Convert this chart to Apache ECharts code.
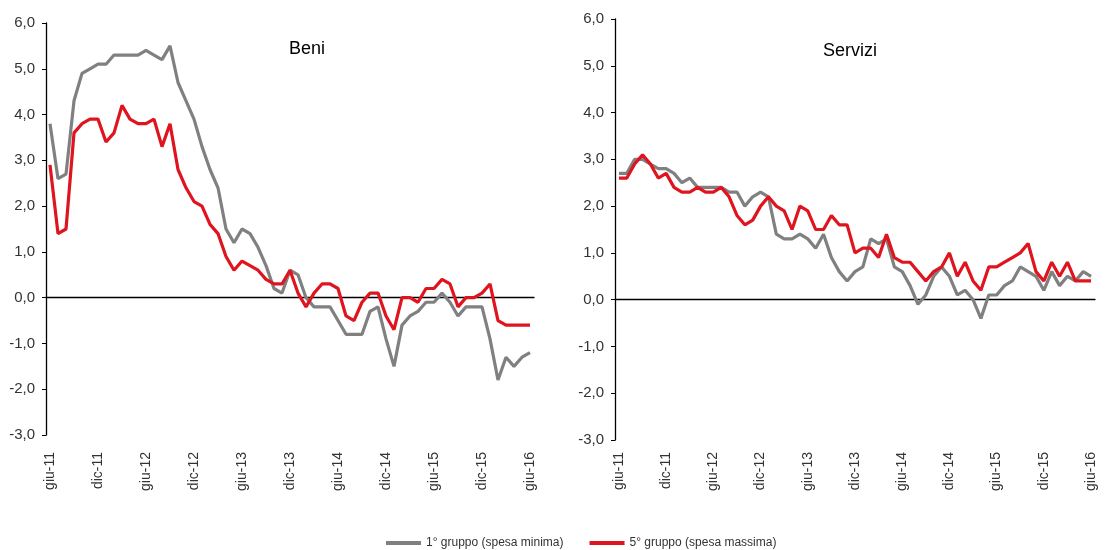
<!DOCTYPE html>
<html>
<head>
<meta charset="utf-8">
<script src="https://cdn.jsdelivr.net/npm/echarts@6/dist/echarts.min.js"></script>
<style>
    html, body {margin: 0; padding: 0; background: #fff;}
    #chart {width: 1106px; height: 550px;}
</style>
</head>
<body>
<div id="chart"></div>
<script>
// mesi da giu-11 a giu-16
var mesi = ['gen', 'feb', 'mar', 'apr', 'mag', 'giu', 'lug', 'ago', 'set', 'ott', 'nov', 'dic'];
var categorie = [];
for (var a = 11; a <= 16; a++) {
    for (var m = 0; m < 12; m++) {
        if ((a == 11 && m < 5) || (a == 16 && m > 5)) continue;
        categorie.push(mesi[m] + '-' + a);
    }
}

var legenda = ['1° gruppo (spesa minima)', '5° gruppo (spesa massima)'];

// Beni
var beniMinima = [3.8, 2.6, 2.7, 4.3, 4.9, 5.0, 5.1, 5.1, 5.3, 5.3, 5.3, 5.3, 5.4, 5.3, 5.2, 5.5,
    4.7, 4.3, 3.9, 3.3, 2.8, 2.4, 1.5, 1.2, 1.5, 1.4, 1.1, 0.7, 0.2, 0.1, 0.6, 0.5,
    0.0, -0.2, -0.2, -0.2, -0.5, -0.8, -0.8, -0.8, -0.3, -0.2, -0.9, -1.5, -0.6, -0.4,
    -0.3, -0.1, -0.1, 0.1, -0.1, -0.4, -0.2, -0.2, -0.2, -0.9, -1.8, -1.3, -1.5, -1.3, -1.2];
var beniMassima = [2.9, 1.4, 1.5, 3.6, 3.8, 3.9, 3.9, 3.4, 3.6, 4.2, 3.9, 3.8, 3.8, 3.9, 3.3, 3.8,
    2.8, 2.4, 2.1, 2.0, 1.6, 1.4, 0.9, 0.6, 0.8, 0.7, 0.6, 0.4, 0.3, 0.3, 0.6, 0.1,
    -0.2, 0.1, 0.3, 0.3, 0.2, -0.4, -0.5, -0.1, 0.1, 0.1, -0.4, -0.7, 0.0, 0.0,
    -0.1, 0.2, 0.2, 0.4, 0.3, -0.2, 0.0, 0.0, 0.1, 0.3, -0.5, -0.6, -0.6, -0.6, -0.6];

// Servizi
var serviziMinima = [2.7, 2.7, 3.0, 3.0, 2.9, 2.8, 2.8, 2.7, 2.5, 2.6, 2.4, 2.4, 2.4, 2.4, 2.3, 2.3,
    2.0, 2.2, 2.3, 2.2, 1.4, 1.3, 1.3, 1.4, 1.3, 1.1, 1.4, 0.9, 0.6, 0.4, 0.6, 0.7,
    1.3, 1.2, 1.3, 0.7, 0.6, 0.3, -0.1, 0.1, 0.5, 0.7, 0.5, 0.1, 0.2, 0.0,
    -0.4, 0.1, 0.1, 0.3, 0.4, 0.7, 0.6, 0.5, 0.2, 0.6, 0.3, 0.5, 0.4, 0.6, 0.5];
var serviziMassima = [2.6, 2.6, 2.9, 3.1, 2.9, 2.6, 2.7, 2.4, 2.3, 2.3, 2.4, 2.3, 2.3, 2.4, 2.2, 1.8,
    1.6, 1.7, 2.0, 2.2, 2.0, 1.9, 1.5, 2.0, 1.9, 1.5, 1.5, 1.8, 1.6, 1.6, 1.0, 1.1,
    1.1, 0.9, 1.4, 0.9, 0.8, 0.8, 0.6, 0.4, 0.6, 0.7, 1.0, 0.5, 0.8, 0.4,
    0.2, 0.7, 0.7, 0.8, 0.9, 1.0, 1.2, 0.6, 0.4, 0.8, 0.5, 0.8, 0.4, 0.4, 0.4];

var grigio = '#808080';
var rosso = '#e0141e';
var fontBase = "'Liberation Sans', Arial, sans-serif";

function virgola(v) {
    return v.toFixed(1).replace('.', ',');
}

// asse x sullo zero (linea e tacche) e asse x in basso (solo etichette)
function assiX(grid, margine) {
    return [
        {
            type: 'category',
            gridIndex: grid,
            data: categorie,
            boundaryGap: true,
            axisLine: {onZero: true, lineStyle: {color: '#000', width: 1.3}},
            axisTick: {interval: 5, length: 5, lineStyle: {color: '#000'}},
            axisLabel: {show: false},
            splitLine: {show: false}
        },
        {
            type: 'category',
            gridIndex: grid,
            position: 'bottom',
            data: categorie,
            boundaryGap: true,
            axisLine: {show: false, onZero: false},
            axisTick: {show: false},
            axisLabel: {
                interval: 5,
                rotate: 90,
                margin: margine,
                color: '#333',
                fontSize: 14,
                fontFamily: fontBase
            },
            splitLine: {show: false}
        }
    ];
}

function asseY(grid) {
    return {
        type: 'value',
        gridIndex: grid,
        min: -3,
        max: 6,
        interval: 1,
        axisLine: {show: true, lineStyle: {color: '#000', width: 1.3}},
        axisTick: {show: true, length: 4, lineStyle: {color: '#000'}},
        axisLabel: {
            formatter: virgola,
            margin: 11,
            color: '#333',
            fontSize: 15,
            fontFamily: fontBase
        },
        splitLine: {show: false}
    };
}

function serie(nome, dati, colore, x, y) {
    return {
        name: nome,
        type: 'line',
        xAxisIndex: x,
        yAxisIndex: y,
        data: dati,
        symbol: 'none',
        lineStyle: {color: colore, width: 3.2},
        itemStyle: {color: colore}
    };
}

var chart = echarts.init(document.getElementById('chart'));

var option = {
    animation: false,
    backgroundColor: '#fff',
    title: [
        {text: 'Beni', left: 284, top: 35, textStyle: {fontSize: 18, fontWeight: 'normal', color: '#000', fontFamily: fontBase}},
        {text: 'Servizi', left: 818, top: 37, textStyle: {fontSize: 18, fontWeight: 'normal', color: '#000', fontFamily: fontBase}}
    ],
    legend: {
        data: legenda,
        left: 381,
        top: 532,
        icon: 'rect',
        itemWidth: 35,
        itemHeight: 4,
        itemGap: 26,
        textStyle: {fontSize: 12, color: '#333', fontFamily: fontBase}
    },
    grid: [
        {left: 46, top: 23, width: 488, height: 412},
        {left: 615, top: 19, width: 480, height: 421}
    ],
    xAxis: assiX(0, 17).concat(assiX(1, 12)),
    yAxis: [asseY(0), asseY(1)],
    series: [
        serie(legenda[0], beniMinima, grigio, 0, 0),
        serie(legenda[1], beniMassima, rosso, 0, 0),
        serie(legenda[0], serviziMinima, grigio, 2, 1),
        serie(legenda[1], serviziMassima, rosso, 2, 1)
    ]
};

chart.setOption(option);
</script>
</body>
</html>
